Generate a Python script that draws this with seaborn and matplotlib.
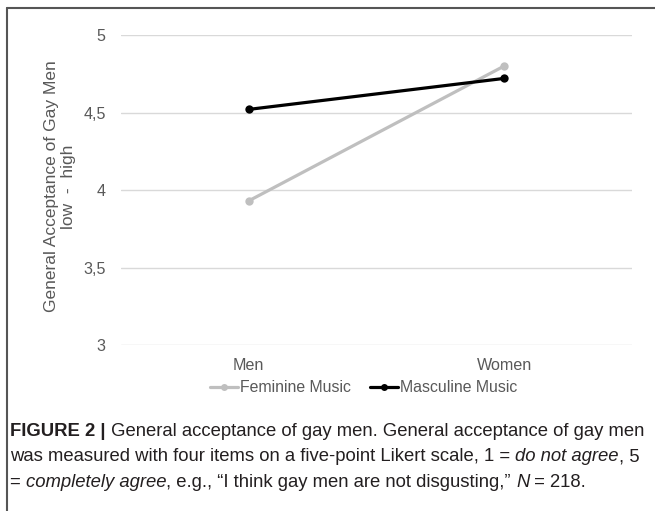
import matplotlib
matplotlib.use("Agg")
import matplotlib.pyplot as plt
import seaborn as sns
import pandas as pd
from matplotlib.lines import Line2D

# ---- data ----
categories = ["Men", "Women"]
feminine_music = [3.93, 4.80]
masculine_music = [4.52, 4.72]
series_names = ["Feminine Music", "Masculine Music"]
y_ticks = [3, 3.5, 4, 4.5, 5]
y_tick_labels = ["3", "3,5", "4", "4,5", "5"]

df = pd.DataFrame({
    "group": categories * 2,
    "value": feminine_music + masculine_music,
    "music": [series_names[0]] * 2 + [series_names[1]] * 2,
})

sns.set_style("white")
plt.rcParams["font.family"] = ["Liberation Sans", "DejaVu Sans"]

W, H = 655, 511
fig = plt.figure(figsize=(6.55, 5.11), dpi=100)
ax = fig.add_axes([121 / W, 1 - 345 / H, (632 - 121) / W, (345 - 35) / H])

grey_txt = "#595959"
sns.lineplot(data=df, x="group", y="value", hue="music",
             palette={series_names[0]: "#BFBFBF", series_names[1]: "#000000"},
             marker="o", markersize=6, markeredgewidth=0, linewidth=2.3,
             ax=ax, legend=False, sort=False)

ax.set_xlim(-0.5, 1.5)
ax.set_ylim(3, 5)
ax.set_yticks(y_ticks)
ax.set_yticklabels(y_tick_labels)
ax.yaxis.grid(True, color="#D9D9D9", linewidth=1.0)
ax.set_axisbelow(True)
for s in ax.spines.values():
    s.set_visible(False)
ax.tick_params(axis="both", length=0, labelsize=11.6, labelcolor=grey_txt)
ax.tick_params(axis="y", pad=11)
ax.tick_params(axis="x", pad=9)
ax.set_xlabel("")
ax.set_ylabel("General Acceptance of Gay Men\nlow  -  high", fontsize=12.5,
              color=grey_txt, linespacing=1.2)
ax.yaxis.set_label_coords(-0.088, 0.511)

handles = [
    Line2D([], [], color="#BFBFBF", lw=2.3, marker="o", markersize=5, markeredgewidth=0),
    Line2D([], [], color="#000000", lw=2.3, marker="o", markersize=5, markeredgewidth=0),
]
fig.legend(handles, series_names, loc="center", bbox_to_anchor=(364 / W, 1 - 388 / H),
           ncol=2, frameon=False, fontsize=11.4, handlelength=1.75, handletextpad=0.15,
           columnspacing=1.2, labelcolor=grey_txt, borderpad=0)

# border
bc = "#555555"
fig.add_artist(Line2D([7 / W, 1.0], [1 - 8 / H, 1 - 8 / H], color=bc, lw=1.5,
                      transform=fig.transFigure))
fig.add_artist(Line2D([7 / W, 7 / W], [1 - 8 / H, 0.0], color=bc, lw=1.5,
                      transform=fig.transFigure))

# caption
cap_fs = 13.3
cap_col = "#231F20"
cfam = ["Liberation Sans", "DejaVu Sans"]


def chain(pieces, x0, y0):
    prev = None
    for txt, style in pieces:
        kw = dict(fontsize=cap_fs, color=cap_col, family=cfam, ha="left")
        if style == "b":
            kw["fontweight"] = "bold"
        if style == "i":
            kw["fontstyle"] = "italic"
        if prev is None:
            prev = fig.text(x0 / W, 1 - y0 / H, txt, va="baseline", **kw)
        else:
            prev = ax.annotate(txt, xy=(1, 0), xycoords=prev, annotation_clip=False,
                               va="bottom", **kw)
    return prev


line1 = [("FIGURE 2 |", "b"), (" General acceptance of gay men. General acceptance of gay men", "")]
line2 = [("was measured with four items on a five-point Likert scale, 1 = ", ""),
         ("do not agree", "i"), (", 5", "")]
line3 = [("= ", ""), ("completely agree", "i"),
         (", e.g., \u201cI think gay men are not disgusting,\u201d ", ""), ("N", "i"), (" = 218.", "")]

chain(line1, 10, 436)
chain(line2, 10, 461)
chain(line3, 10, 487)

fig.savefig("out.png", dpi=100)
